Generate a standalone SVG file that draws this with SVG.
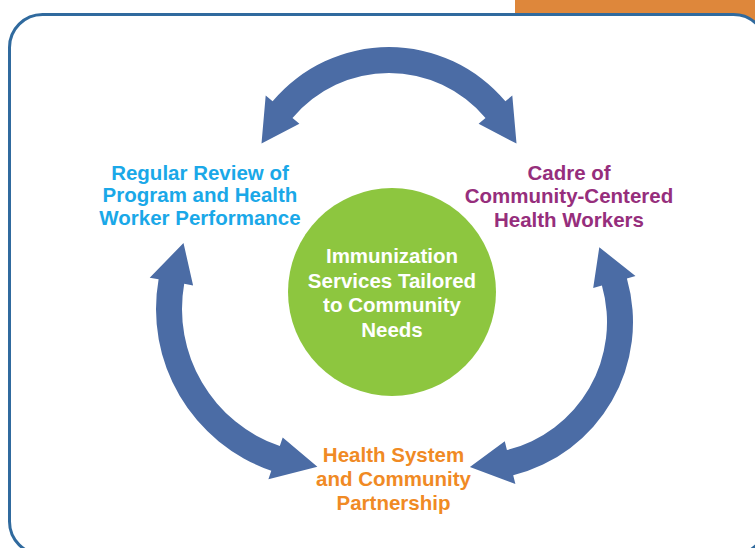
<svg xmlns="http://www.w3.org/2000/svg" width="755" height="548" viewBox="0 0 755 548">
<style>
.arrow{fill:#4B6CA5;stroke:none}
.lbl{font-family:"Liberation Sans",Arial,sans-serif;font-weight:bold;font-size:20.5px;text-anchor:middle}
</style>
<rect x="0" y="0" width="755" height="548" fill="#ffffff"/>
<rect x="515" y="0" width="240" height="40" fill="#DE873B"/>
<rect x="9.5" y="14.5" width="757" height="540" rx="33" ry="33" fill="#ffffff" stroke="#306A9E" stroke-width="3"/>
<g id="connectors">
<path class="arrow" d="M261.5,143.6 L265.7,95.5 L272.6,101.3 A152,152 0 0 1 505.4,101.3 L512.3,95.5 L516.5,143.6 L478.6,123.8 L485.5,118.0 A126,126 0 0 0 292.5,118.0 L299.4,123.8 Z"/>
<path class="arrow" d="M599.3,247.3 L635.5,276.0 L626.9,278.5 A158,158 0 0 1 513.2,475.3 L515.4,484.0 L469.9,466.9 L504.8,441.3 L506.9,450.1 A132,132 0 0 0 601.9,285.6 L593.2,288.1 Z"/>
<path class="arrow" d="M317.4,466.7 L268.4,479.2 L271.3,470.7 A171,171 0 0 1 158.6,279.3 L149.7,277.8 L183.5,243.0 L193.1,285.4 L184.2,283.8 A145,145 0 0 0 279.8,446.1 L282.7,437.6 Z"/>
</g>
<g id="center">
<circle cx="392" cy="292" r="104" fill="#8DC63F"/>
<text class="lbl" fill="#ffffff"><tspan x="392" y="263">Immunization</tspan><tspan x="392" y="288">Services Tailored</tspan><tspan x="392" y="312">to Community</tspan><tspan x="392" y="337">Needs</tspan></text>
</g>
<g id="review">
<text class="lbl" fill="#1AA8E8"><tspan x="200" y="180">Regular Review of</tspan><tspan x="200" y="202">Program and Health</tspan><tspan x="200" y="225">Worker Performance</tspan></text>
</g>
<g id="cadre">
<text class="lbl" fill="#962E7C"><tspan x="569" y="180">Cadre of</tspan><tspan x="569" y="203">Community-Centered</tspan><tspan x="569" y="227">Health Workers</tspan></text>
</g>
<g id="partnership">
<text class="lbl" fill="#F08A24"><tspan x="393.5" y="462">Health System</tspan><tspan x="393.5" y="486">and Community</tspan><tspan x="393.5" y="510">Partnership</tspan></text>
</g>
</svg>
